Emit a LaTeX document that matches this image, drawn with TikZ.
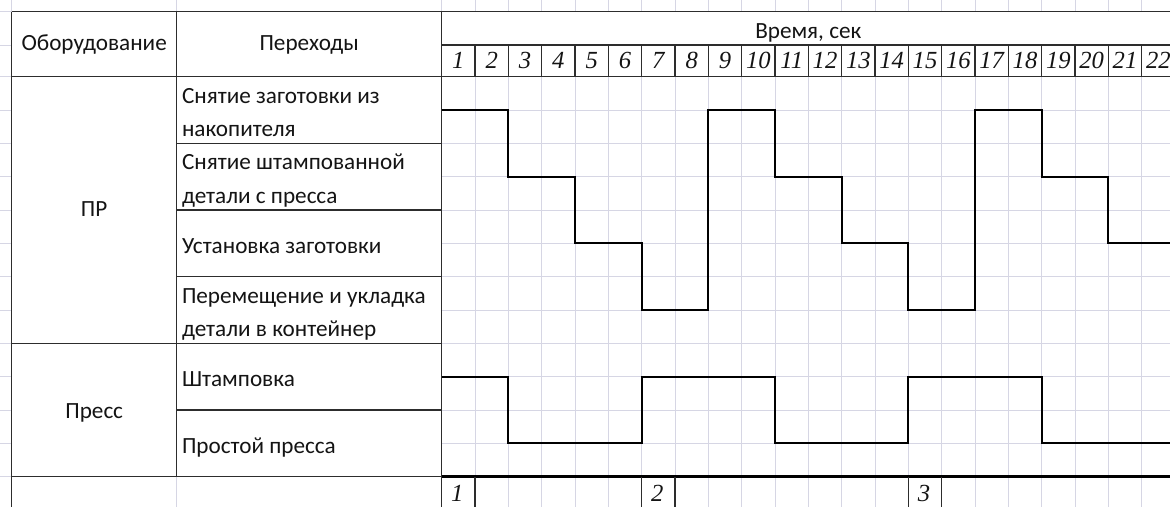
\documentclass[tikz,border=0pt]{standalone}
\usepackage{fontspec}
\setmainfont{Carlito}
\newfontfamily\numfont{Liberation Serif}
\definecolor{gridc}{RGB}{214,214,228}
\definecolor{rulec}{RGB}{45,45,45}

\begin{document}
\begin{tikzpicture}[x=0.6667cm, y=-0.6667cm, every node/.style={font=\fontsize{13.2}{15.8}\selectfont, text=black!92, inner sep=0pt}, head/.style={anchor=base}, op/.style={anchor=base west}, num/.style={anchor=base, font=\numfont\itshape\fontsize{14}{17}\selectfont}, gridln/.style={draw=gridc, line width=0.5pt}, tabline/.style={draw=rulec, line width=0.7pt}, cyc/.style={draw=black, line width=1.2pt, line join=miter}]
\useasboundingbox (0,0) rectangle (35.1,15.21);
\foreach \k in {1,...,21} \draw[gridln] (13.25+\k,2.3) -- (13.25+\k,15.21);
\foreach \k in {1,...,12} \draw[gridln] (13.25,2.3+\k) -- (35.1,2.3+\k);
\foreach \x in {0.35,5.3} \draw[gridln] (\x,0) -- (\x,0.35);
\foreach \k in {0,...,21} \draw[gridln] (13.25+\k,0) -- (13.25+\k,0.35);
\foreach \y in {0.35,1.35} \draw[gridln] (0,\y) -- (0.35,\y);
\foreach \k in {0,...,12} \draw[gridln] (0,2.3+\k) -- (0.35,2.3+\k);
\draw[gridln] (5.3,14.3) -- (5.3,15.21);
\draw[tabline] (0.35,0.35) -- (35.1,0.35);
\draw[tabline] (13.25,1.35) -- (35.1,1.35);
\draw[tabline] (0.35,2.3) -- (35.1,2.3);
\foreach \k in {1,...,21} \draw[tabline] (13.25+\k,1.35) -- (13.25+\k,2.3);
\draw[tabline] (0.35,0.35) -- (0.35,15.21);
\draw[tabline] (5.3,0.35) -- (5.3,14.3);
\draw[tabline] (13.25,0.35) -- (13.25,15.21);
\foreach \y in {4.3,6.3,8.3,12.3} \draw[tabline] (5.3,\y) -- (13.25,\y);
\foreach \y in {10.3,14.3} \draw[tabline] (0.35,\y) -- (13.25,\y);
\draw[draw=black, line width=1.4pt] (13.25,14.3) -- (35.1,14.3);
\foreach \x in {14.25,19.25,20.25,27.25,28.25} \draw[tabline] (\x,14.3) -- (\x,15.21);
\begin{scope}[shift={(13.25,0)}]
\clip (-1,2.3) rectangle (21.85,14.3);
\draw[cyc] (0,3.3) \foreach \c in {0,8,16} { -| (\c+2,5.3) -| (\c+4,7.3) -| (\c+6,9.3) -| (\c+8,3.3) };
\draw[cyc] (0,11.3) -| (2,13.3) \foreach \c in {0,8,16} { -| (\c+6,11.3) -| (\c+10,13.3) };
\end{scope}
\node[head] (equip) at (2.825,1.52) {Оборудование};
\node[head] (trans) at (9.275,1.52) {Переходы};
\node[head] (time) at (24.25,1.14) {Время, сек};
\foreach \k in {1,...,22} \node[num] (t\k) at (12.75+\k,2.055) {\k};
\node[head] (pr) at (2.825,6.5) {ПР};
\node[head] (press) at (2.825,12.54) {Пресс};
\node[op] (op1a) at (5.45,3.09) {Снятие заготовки из};
\node[op] (op1b) at (5.45,4.09) {накопителя};
\node[op] (op2a) at (5.45,5.09) {Снятие штампованной};
\node[op] (op2b) at (5.45,6.09) {детали с пресса};
\node[op] (op3) at (5.45,7.59) {Установка заготовки};
\node[op] (op4a) at (5.45,9.09) {Перемещение и укладка};
\node[op] (op4b) at (5.45,10.09) {детали в контейнер};
\node[op] (op5) at (5.45,11.59) {Штамповка};
\node[op] (op6) at (5.45,13.59) {Простой пресса};
\node[num] (c1) at (13.72,15.05) {1};
\node[num] (c2) at (19.72,15.05) {2};
\node[num] (c3) at (27.72,15.05) {3};
\end{tikzpicture}
\end{document}
